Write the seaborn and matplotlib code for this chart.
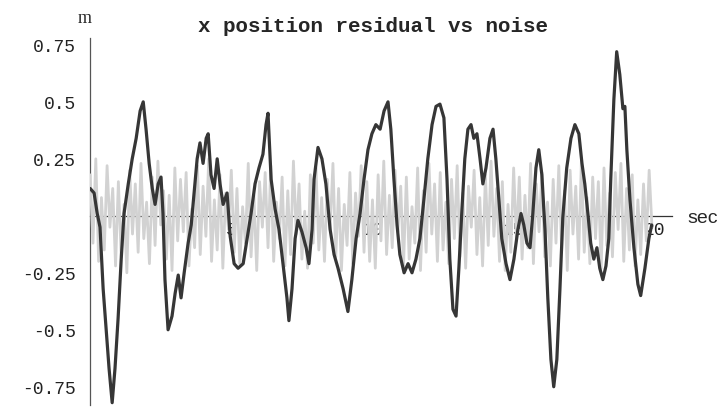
import numpy as np
import pandas as pd
import matplotlib
matplotlib.use("Agg")
import matplotlib.pyplot as plt
from matplotlib.ticker import MultipleLocator, FixedLocator
import seaborn as sns

sns.set_style("white")
plt.rcParams["font.family"] = ["Liberation Mono", "DejaVu Sans"]

# --------------------------------------------------------------------------
# Data (time in sec, residual in m)
# --------------------------------------------------------------------------
residual_t = [
    0.00, 0.14, 0.25, 0.35, 0.46, 0.57, 0.67, 0.78, 0.88, 0.99,
    1.10, 1.20, 1.35, 1.49, 1.63, 1.77, 1.88, 1.98, 2.09, 2.20,
    2.30, 2.41, 2.51, 2.58, 2.65, 2.76, 2.90, 3.01, 3.12, 3.22,
    3.33, 3.47, 3.58, 3.68, 3.79, 3.89, 4.00, 4.11, 4.18, 4.28,
    4.39, 4.50, 4.60, 4.71, 4.85, 4.96, 5.10, 5.24, 5.42, 5.56,
    5.70, 5.84, 5.98, 6.12, 6.23, 6.30, 6.41, 6.55, 6.69, 6.83,
    6.97, 7.04, 7.15, 7.26, 7.36, 7.50, 7.65, 7.75, 7.86, 7.93,
    8.07, 8.21, 8.35, 8.50, 8.64, 8.78, 8.96, 9.13, 9.27, 9.42,
    9.56, 9.70, 9.84, 9.98, 10.12, 10.27, 10.41, 10.55, 10.65, 10.76,
    10.87, 10.97, 11.12, 11.26, 11.40, 11.54, 11.68, 11.82, 11.96, 12.11,
    12.25, 12.39, 12.53, 12.64, 12.74, 12.85, 12.96, 13.06, 13.17, 13.27,
    13.38, 13.49, 13.59, 13.70, 13.81, 13.91, 14.02, 14.16, 14.27, 14.37,
    14.48, 14.58, 14.73, 14.87, 15.01, 15.15, 15.26, 15.36, 15.47, 15.58,
    15.68, 15.79, 15.89, 16.00, 16.11, 16.21, 16.32, 16.42, 16.53, 16.64,
    16.74, 16.88, 17.03, 17.17, 17.31, 17.42, 17.52, 17.63, 17.73, 17.84,
    17.95, 18.05, 18.16, 18.27, 18.37, 18.44, 18.55, 18.65, 18.76, 18.87,
    18.94, 19.01, 19.12, 19.26, 19.40, 19.50, 19.65, 19.79, 19.89,
]
residual_m = [
    0.12, 0.10, 0.01, -0.05, -0.32, -0.50, -0.67, -0.82, -0.67, -0.45,
    -0.19, 0.01, 0.14, 0.25, 0.34, 0.46, 0.50, 0.38, 0.23, 0.12,
    0.05, 0.14, 0.17, 0.01, -0.28, -0.50, -0.44, -0.34, -0.26, -0.36,
    -0.25, -0.12, -0.04, 0.10, 0.25, 0.32, 0.23, 0.34, 0.36, 0.18,
    0.12, 0.25, 0.14, 0.05, 0.10, -0.09, -0.21, -0.23, -0.21, -0.10,
    0.01, 0.14, 0.21, 0.27, 0.40, 0.45, 0.16, 0.03, -0.06, -0.21,
    -0.36, -0.46, -0.32, -0.10, -0.02, -0.07, -0.14, -0.21, -0.06, 0.16,
    0.30, 0.25, 0.14, -0.06, -0.17, -0.23, -0.32, -0.42, -0.28, -0.10,
    0.01, 0.16, 0.29, 0.36, 0.40, 0.38, 0.46, 0.50, 0.38, 0.16,
    -0.04, -0.17, -0.25, -0.21, -0.25, -0.19, -0.10, 0.07, 0.25, 0.40,
    0.48, 0.49, 0.43, 0.16, -0.19, -0.41, -0.44, -0.23, 0.03, 0.25,
    0.38, 0.40, 0.34, 0.36, 0.25, 0.14, 0.21, 0.34, 0.38, 0.25,
    0.07, -0.10, -0.21, -0.28, -0.19, -0.06, 0.01, -0.04, -0.12, -0.14,
    0.01, 0.21, 0.29, 0.18, -0.06, -0.36, -0.63, -0.75, -0.63, -0.32,
    -0.01, 0.21, 0.34, 0.40, 0.36, 0.23, 0.14, 0.01, -0.12, -0.19,
    -0.14, -0.23, -0.28, -0.22, -0.10, 0.16, 0.51, 0.72, 0.62, 0.47,
    0.48, 0.29, 0.07, -0.14, -0.30, -0.35, -0.23, -0.10, -0.04,
]

# noise sampled every 0.1 sec
noise_m = [
    0.18, -0.12, 0.25, -0.20, 0.08, -0.15, 0.22, -0.05, 0.12, -0.22,
    0.15, -0.18, 0.05, -0.25, 0.20, -0.08, 0.14, -0.16, 0.23, -0.10,
    0.06, -0.21, 0.17, -0.13, 0.24, -0.04, 0.11, -0.19, 0.09, -0.24,
    0.21, -0.11, 0.16, -0.07, 0.19, -0.22, 0.03, -0.14, 0.22, -0.17,
    0.13, -0.09, 0.25, -0.20, 0.07, -0.15, 0.18, -0.23, 0.10, -0.06,
    0.20, -0.16, 0.12, -0.21, 0.04, -0.12, 0.23, -0.18, 0.09, -0.24,
    0.15, -0.05, 0.19, -0.14, 0.22, -0.20, 0.06, -0.10, 0.17, -0.22,
    0.11, -0.17, 0.24, -0.08, 0.14, -0.19, 0.02, -0.23, 0.18, -0.12,
    0.21, -0.15, 0.08, -0.20, 0.16, -0.06, 0.23, -0.18, 0.12, -0.24,
    0.05, -0.13, 0.19, -0.21, 0.10, -0.09, 0.22, -0.16, 0.15, -0.20,
    0.07, -0.23, 0.18, -0.11, 0.24, -0.17, 0.09, -0.14, 0.20, -0.07,
    0.13, -0.22, 0.17, -0.19, 0.04, -0.12, 0.21, -0.24, 0.11, -0.16,
    0.23, -0.08, 0.14, -0.20, 0.19, -0.15, 0.06, -0.21, 0.16, -0.10,
    0.22, -0.18, 0.10, -0.23, 0.13, -0.05, 0.20, -0.17, 0.08, -0.22,
    0.18, -0.13, 0.24, -0.09, 0.12, -0.20, 0.15, -0.24, 0.05, -0.16,
    0.21, -0.11, 0.17, -0.19, 0.09, -0.14, 0.23, -0.21, 0.14, -0.07,
    0.19, -0.18, 0.06, -0.22, 0.16, -0.12, 0.22, -0.15, 0.11, -0.24,
    0.20, -0.08, 0.13, -0.19, 0.24, -0.16, 0.08, -0.21, 0.17, -0.10,
    0.15, -0.23, 0.21, -0.13, 0.10, -0.18, 0.19, -0.06, 0.23, -0.20,
    0.12, -0.15, 0.18, -0.22, 0.07, -0.17, 0.14, -0.11, 0.20, -0.05,
]
noise_t = [round(0.1 * i, 1) for i in range(len(noise_m))]

residual = pd.DataFrame({"t": residual_t, "m": residual_m})
noise = pd.DataFrame({"t": noise_t, "m": noise_m})

# --------------------------------------------------------------------------
# Plot
# --------------------------------------------------------------------------
fig = plt.figure(figsize=(7.27, 4.10), dpi=100)
ax = fig.add_axes([0.124, 0.0098, 0.80, 0.895])

sns.lineplot(data=noise, x="t", y="m", ax=ax, color="#d2d2d2", lw=2.0, zorder=3)
sns.lineplot(data=residual, x="t", y="m", ax=ax, color="#363636", lw=2.3, zorder=4)

ax.set_xlim(0, 20.6)
ax.set_ylim(-0.83, 0.78)

# Mathematica-like axes crossing at the origin
for side in ["top", "right"]:
    ax.spines[side].set_visible(False)
ax.spines["left"].set_position(("data", 0))
ax.spines["bottom"].set_position(("data", 0))
ax.spines["left"].set_color("#555555")
ax.spines["bottom"].set_color("#333333")
ax.spines["left"].set_linewidth(0.9)
ax.spines["bottom"].set_linewidth(0.9)

ax.xaxis.set_major_locator(FixedLocator([5, 10, 15, 20]))
ax.xaxis.set_minor_locator(MultipleLocator(1))
ax.set_xticklabels(["5", "10", "15", "20"])
ax.yaxis.set_major_locator(FixedLocator([-0.75, -0.5, -0.25, 0.25, 0.5, 0.75]))
ax.yaxis.set_minor_locator(MultipleLocator(0.05))
ax.set_yticklabels(["-0.75", "-0.5", "-0.25", "0.25", "0.5", "0.75"])

ax.tick_params(axis="both", which="major", direction="in", length=6, width=0.8,
               labelsize=13, colors="#333333", labelcolor="#222222")
ax.tick_params(axis="both", which="minor", direction="in", length=3, width=0.6,
               colors="#666666")
ax.tick_params(axis="y", pad=10)
ax.tick_params(axis="x", pad=4)
ax.set_xlabel("")
ax.set_ylabel("")

fig.text(0.513, 0.935, "x position residual vs noise", ha="center", va="center",
         fontsize=15, fontweight="bold", family="Liberation Mono")
fig.text(0.117, 0.955, "m", ha="center", va="center", fontsize=13,
         family="Liberation Serif")
fig.text(0.945, 0.468, "sec", ha="left", va="center", fontsize=14,
         family="Liberation Sans")

fig.savefig("out.png", dpi=100)
